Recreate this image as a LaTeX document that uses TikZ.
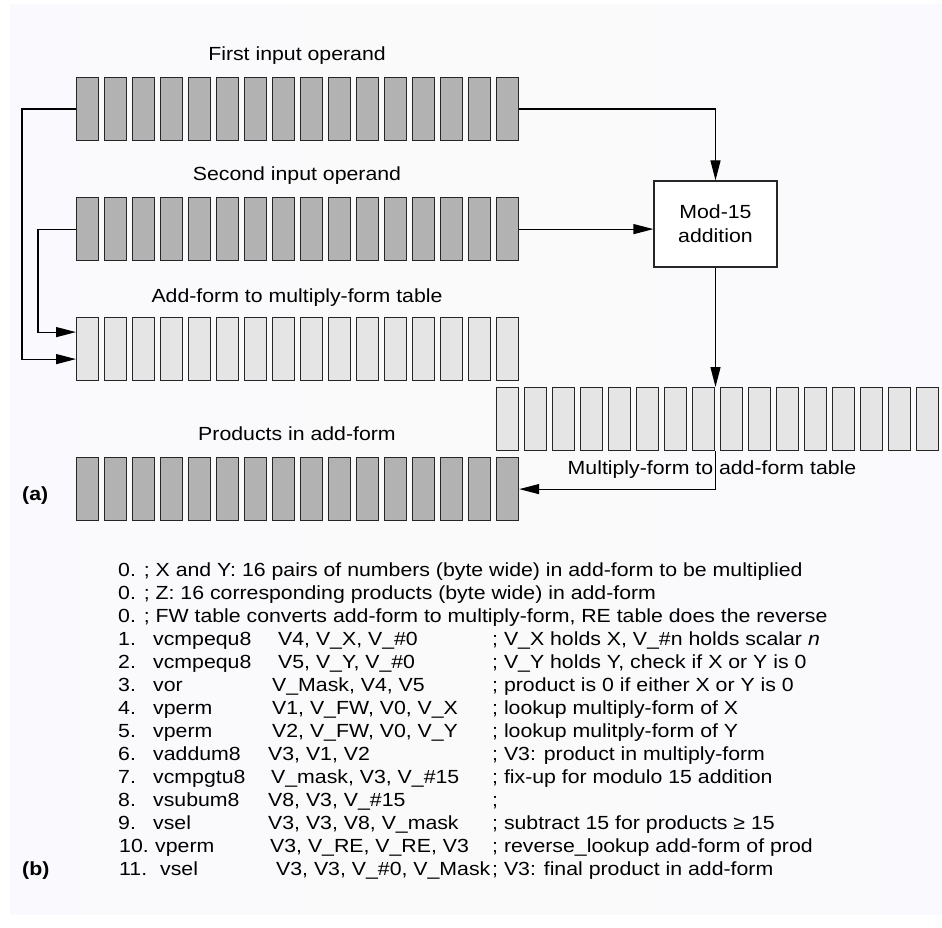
\documentclass[tikz,border=0pt]{standalone}
\usepackage{fontspec}
\setmainfont{Liberation Sans}[FakeStretch=1.12]
\usetikzlibrary{arrows.meta,calc}
\tikzset{
  cellD/.style={draw=black!85, fill=black!30, line width=1.2pt, minimum width=22pt, minimum height=63pt, inner sep=0pt, anchor=north west},
  cellL/.style={cellD, fill=black!10},
  conn/.style={line width=1.2pt, draw=black},
  arr/.style={conn, -{Triangle[length=20pt,width=10pt]}},
  lbl/.style={anchor=base, inner sep=0pt, font=\fontsize{19}{23}\selectfont},
  lst/.style={anchor=base west, inner sep=0pt, font=\fontsize{19}{23}\selectfont},
  tag/.style={anchor=base west, inner sep=0pt, font=\fontsize{19}{23}\selectfont\bfseries},
  modbox/.style={draw=black!85, fill=white, line width=1.2pt, minimum width=123pt, minimum height=86pt, align=center, inner sep=0pt, font=\fontsize{19}{24}\selectfont}
}
\begin{document}
\begin{tikzpicture}[x=1pt,y=-1pt]
\useasboundingbox (0,0) rectangle (942,928);
\shade[left color=black!18!blue!2!white, right color=black!18!blue!2!white, middle color=black!2] (10,5) rectangle (942,914);
% rows of cells
\foreach \i in {0,...,15}{
  \node[cellD] (r1c\i) at ({76+28*\i},77) {};
  \node[cellD] (r2c\i) at ({76+28*\i},197) {};
  \node[cellL] (r3c\i) at ({76+28*\i},317) {};
  \node[cellL] (m\i) at ({496+28*\i},387) {};
  \node[cellD] (p\i) at ({76+28*\i},457) {};
}
% titles
\node[lbl] (t1) at (297,61) {First input operand};
\node[lbl] (t2) at (297,181) {Second input operand};
\node[lbl] (t3) at (297,302) {Add-form to multiply-form table};
\node[lbl] (t4) at (297,440) {Products in add-form};
\node[lbl] (t5) at (712,474) {Multiply-form to add-form table};
\node[modbox] (mod) at (715.5,224) {Mod-15\\addition};
% connectors
\draw[arr] (r1c0.west) -- ++(-54,0) |- ([yshift=-10pt]r3c0.west);
\draw[arr] (r2c0.west) -- ++(-38,0) |- ([yshift=17pt]r3c0.west);
\draw[arr] (r1c15.east) -| (mod.north);
\draw[arr] (r2c15.east) -- (r2c15.east -| mod.west);
\draw[arr] (mod.south) -- (mod.south |- m0.north);
\draw[arr] (mod.south |- m0.south) |- (p15.east);
% tags
\node[tag] (ta) at (22,500) {(a)};
\node[tag] (tb) at (22,875) {(b)};
% listing
\node[lst] (l0) at (118,576) {0. ; X and Y: 16 pairs of numbers (byte wide) in add-form to be multiplied};
\node[lst] (l1) at (118,599) {0. ; Z: 16 corresponding products (byte wide) in add-form};
\node[lst] (l2) at (118,622) {0. ; FW table converts add-form to multiply-form, RE table does the reverse};
\node[lst] (n3) at (118,645) {1.};
\node[lst] (i3) at (153,645) {vcmpequ8};
\node[lst] (o3) at (278,645) {V4, V\_X, V\_\#0};
\node[lst] (c3) at (492,645) {; V\_X holds X, V\_\#n holds scalar \textit{n}};
\node[lst] (n4) at (118,668) {2.};
\node[lst] (i4) at (153,668) {vcmpequ8};
\node[lst] (o4) at (278,668) {V5, V\_Y, V\_\#0};
\node[lst] (c4) at (492,668) {; V\_Y holds Y, check if X or Y is 0};
\node[lst] (n5) at (118,691) {3.};
\node[lst] (i5) at (153,691) {vor};
\node[lst] (o5) at (272,691) {V\_Mask, V4, V5};
\node[lst] (c5) at (492,691) {; product is 0 if either X or Y is 0};
\node[lst] (n6) at (118,714) {4.};
\node[lst] (i6) at (153,714) {vperm};
\node[lst] (o6) at (272,714) {V1, V\_FW, V0, V\_X};
\node[lst] (c6) at (492,714) {; lookup multiply-form of X};
\node[lst] (n7) at (118,737) {5.};
\node[lst] (i7) at (153,737) {vperm};
\node[lst] (o7) at (272,737) {V2, V\_FW, V0, V\_Y};
\node[lst] (c7) at (492,737) {; lookup mulitply-form of Y};
\node[lst] (n8) at (118,760) {6.};
\node[lst] (i8) at (153,760) {vaddum8};
\node[lst] (o8) at (268,760) {V3, V1, V2};
\node[lst] (c8) at (492,760) {; V3: product in multiply-form};
\node[lst] (n9) at (118,783) {7.};
\node[lst] (i9) at (153,783) {vcmpgtu8};
\node[lst] (o9) at (271,783) {V\_mask, V3, V\_\#15};
\node[lst] (c9) at (492,783) {; fix-up for modulo 15 addition};
\node[lst] (n10) at (118,806) {8.};
\node[lst] (i10) at (153,806) {vsubum8};
\node[lst] (o10) at (268,806) {V8, V3, V\_\#15};
\node[lst] (c10) at (492,806) {;};
\node[lst] (n11) at (118,829) {9.};
\node[lst] (i11) at (153,829) {vsel};
\node[lst] (o11) at (268,829) {V3, V3, V8, V\_mask};
\node[lst] (c11) at (492,829) {; subtract 15 for products ≥ 15};
\node[lst] (n12) at (119,852) {10.};
\node[lst] (i12) at (155,852) {vperm};
\node[lst] (o12) at (270,852) {V3, V\_RE, V\_RE, V3};
\node[lst] (c12) at (492,852) {; reverse\_lookup add-form of prod};
\node[lst] (n13) at (119,875) {11.};
\node[lst] (i13) at (160,875) {vsel};
\node[lst] (o13) at (276,875) {V3, V3, V\_\#0, V\_Mask};
\node[lst] (c13) at (492,875) {; V3: final product in add-form};
\end{tikzpicture}
\end{document}
